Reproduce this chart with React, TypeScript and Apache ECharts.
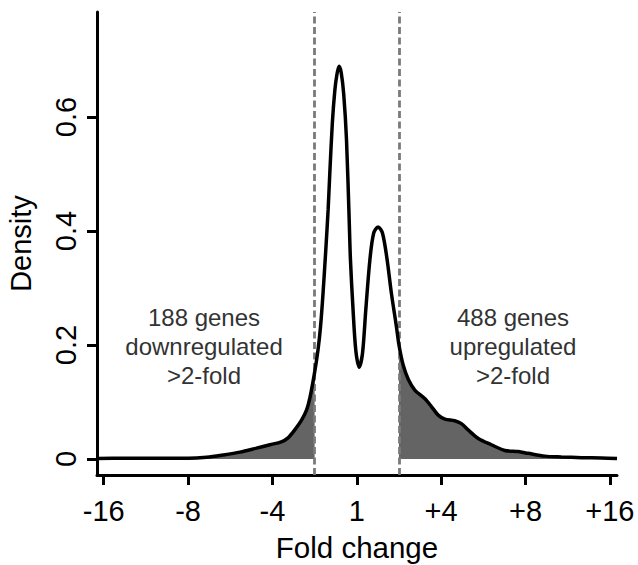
import React, { useEffect, useRef } from "react";
import * as echarts from "echarts";

// x positions are in log2 fold-change units; density values
const xValues = [
  -6.16, -5.5, -5.0, -4.5, -4.0, -3.56, -3.17, -2.77, -2.38, -2.06, -1.79, -1.63,
  -1.47, -1.31, -1.19, -1.11, -1.0, -0.92, -0.86, -0.8, -0.735, -0.68, -0.64,
  -0.58, -0.52, -0.47, -0.42, -0.37, -0.31, -0.244, -0.18, -0.15, -0.088, -0.024,
  0.055, 0.135, 0.213, 0.31, 0.4, 0.505, 0.61, 0.72, 0.82, 0.94, 1.0, 1.1, 1.22,
  1.375, 1.61, 1.77, 1.93, 2.09, 2.32, 2.48, 2.64, 2.88, 3.19, 3.51, 3.83, 4.06,
  4.46, 4.85, 5.33, 5.8, 6.17,
];
const densityValues = [
  0.001, 0.0012, 0.0015, 0.0015, 0.0012, 0.003, 0.007, 0.012, 0.019, 0.025, 0.03,
  0.037, 0.051, 0.068, 0.086, 0.108, 0.152, 0.191, 0.232, 0.291, 0.367, 0.437,
  0.501, 0.589, 0.647, 0.675, 0.689, 0.678, 0.64, 0.56, 0.419, 0.349, 0.261, 0.191,
  0.161, 0.185, 0.261, 0.349, 0.396, 0.407, 0.396, 0.349, 0.291, 0.232, 0.2, 0.165,
  0.14, 0.121, 0.106, 0.092, 0.077, 0.07, 0.067, 0.062, 0.051, 0.036, 0.025, 0.015,
  0.013, 0.01, 0.005, 0.0035, 0.0023, 0.0018, 0.0008,
];

const xTickPositions = [-6, -4, -2, 0, 2, 4, 6];
const xTickLabels = ["-16", "-8", "-4", "1", "+4", "+8", "+16"];
const yTickValues = [0, 0.2, 0.4, 0.6];
const thresholds = [-1, 1];

const downText = "188 genes\ndownregulated\n>2-fold";
const upText = "488 genes\nupregulated\n>2-fold";

const FONT = "'Liberation Sans', Arial, Helvetica, sans-serif";

export default function App() {
  const ref = useRef<HTMLDivElement>(null);

  useEffect(() => {
    document.body.style.margin = "0";
    if (!ref.current) return;
    const chart = echarts.init(ref.current, undefined, { renderer: "svg" });

    const all = xValues.map((x, i) => [x, densityValues[i]]);
    const leftTail = all.filter((p) => p[0] <= thresholds[0]);
    const rightTail = all.filter((p) => p[0] >= thresholds[1]);

    const labelFor = (v: number) => {
      const idx = xTickPositions.indexOf(Math.round(v * 1000) / 1000);
      return idx >= 0 ? xTickLabels[idx] : "";
    };

    chart.setOption({
      animation: false,
      backgroundColor: "#ffffff",
      grid: {
        left: 97,
        right: 21,
        top: 12,
        bottom: 90,
        containLabel: false,
        outerBoundsMode: "none",
      },
      xAxis: {
        type: "value",
        min: -6.16,
        max: 6.17,
        name: "Fold change",
        nameLocation: "middle",
        nameGap: 57.5,
        nameTextStyle: { fontFamily: FONT, fontSize: 29.5, color: "#000" },
        axisLine: { onZero: false, lineStyle: { color: "#000", width: 3 } },
        axisTick: {
          customValues: xTickPositions,
          length: 10,
          lineStyle: { color: "#000", width: 3 },
        },
        axisLabel: {
          customValues: xTickPositions,
          formatter: (v: number) => labelFor(v),
          fontFamily: FONT,
          fontSize: 29,
          color: "#000",
          margin: 21,
        },
        splitLine: { show: false },
      },
      yAxis: {
        type: "value",
        min: -0.0281,
        max: 0.7842,
        name: "Density",
        nameLocation: "middle",
        nameGap: 62,
        nameTextStyle: { fontFamily: FONT, fontSize: 29, color: "#000" },
        axisLine: { onZero: false, lineStyle: { color: "#000", width: 3 } },
        axisTick: {
          customValues: yTickValues,
          length: 10,
          lineStyle: { color: "#000", width: 3 },
        },
        axisLabel: {
          customValues: yTickValues,
          formatter: (v: number) => (v === 0 ? "0" : String(Math.round(v * 10) / 10)),
          rotate: 90,
          fontFamily: FONT,
          fontSize: 29,
          color: "#000",
          margin: 17,
        },
        splitLine: { show: false },
      },
      series: [
        {
          type: "line",
          data: leftTail,
          smooth: 0.3,
          symbol: "none",
          lineStyle: { width: 0, opacity: 0 },
          areaStyle: { color: "#646464", opacity: 1 },
          z: 1,
          silent: true,
        },
        {
          type: "line",
          data: rightTail,
          smooth: 0.3,
          symbol: "none",
          lineStyle: { width: 0, opacity: 0 },
          areaStyle: { color: "#646464", opacity: 1 },
          z: 1,
          silent: true,
        },
        {
          type: "line",
          data: all,
          smooth: 0.3,
          symbol: "none",
          lineStyle: { color: "#000", width: 3.5 },
          z: 3,
          silent: true,
          markLine: {
            silent: true,
            symbol: "none",
            label: { show: false },
            lineStyle: { color: "#7a7a7a", width: 2.8, type: [7, 3.5] },
            data: thresholds.map((t) => ({ xAxis: t })),
            z: 2,
          },
        },
      ],
      graphic: [
        {
          type: "text",
          x: 204,
          y: 346,
          style: {
            text: downText,
            fontFamily: FONT,
            fontSize: 24,
            lineHeight: 29,
            fill: "#333333",
            textAlign: "center",
            textVerticalAlign: "middle",
          },
        },
        {
          type: "text",
          x: 513,
          y: 346,
          style: {
            text: upText,
            fontFamily: FONT,
            fontSize: 24,
            lineHeight: 29,
            fill: "#333333",
            textAlign: "center",
            textVerticalAlign: "middle",
          },
        },
      ],
    });

    return () => chart.dispose();
  }, []);

  return <div ref={ref} style={{ width: 638, height: 565 }} />;
}
